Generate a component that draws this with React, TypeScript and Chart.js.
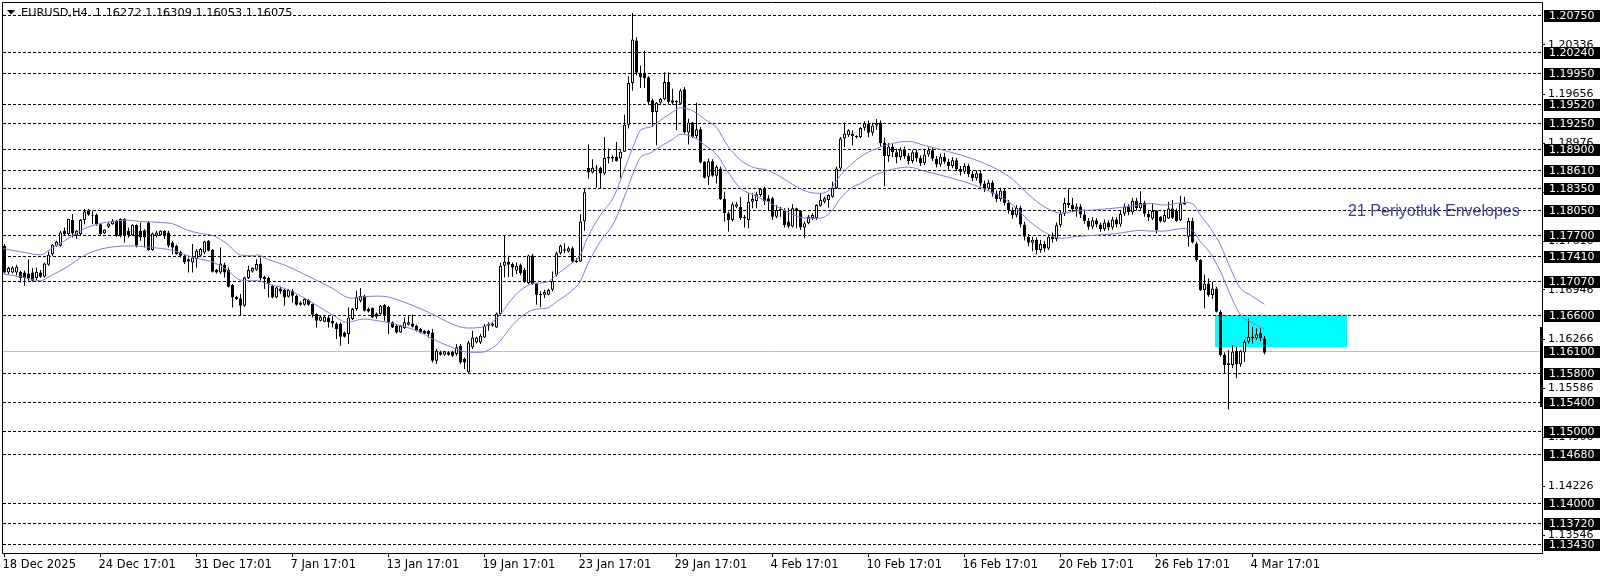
import React, { useEffect, useRef } from 'react';
import { Chart, registerables } from 'chart.js';

Chart.register(...registerables);

// ---------- DATA ----------
const symbolTitle = 'EURUSD,H4';

// H4 candles, bar index 0 = 18 Dec 2025
const openP = [
  1.17557, 1.17188, 1.17188, 1.17188, 1.17197, 1.17188, 1.17174, 1.17188, 1.1711, 1.17188,
  1.17128, 1.17294, 1.17441, 1.17557, 1.17557, 1.17764, 1.17718, 1.17912, 1.17695, 1.17718,
  1.17912, 1.1805, 1.17985, 1.17985, 1.17856, 1.17727, 1.1782, 1.17856, 1.17902, 1.17926,
  1.17926, 1.17764, 1.17704, 1.17843, 1.17764, 1.17773, 1.17879, 1.17497, 1.17695, 1.17704,
  1.17764, 1.17741, 1.17603, 1.17557, 1.17474, 1.17418, 1.17372, 1.17326, 1.17372, 1.17418,
  1.17465, 1.17626, 1.17497, 1.1722, 1.17188, 1.17294, 1.1722, 1.17013, 1.16851, 1.16828,
  1.16727, 1.1711, 1.17202, 1.17225, 1.17312, 1.17128, 1.1711, 1.17004, 1.16842, 1.16967,
  1.16944, 1.16851, 1.16934, 1.16865, 1.16773, 1.1674, 1.16805, 1.1675, 1.16612, 1.1652,
  1.16506, 1.16566, 1.1652, 1.16483, 1.16473, 1.16358, 1.16335, 1.16543, 1.16681, 1.16796,
  1.16865, 1.16681, 1.16695, 1.16621, 1.16612, 1.16736, 1.16713, 1.16497, 1.1645, 1.16358,
  1.16418, 1.16464, 1.16483, 1.1645, 1.16404, 1.16381, 1.16381, 1.16358, 1.15966, 1.16082,
  1.1605, 1.16082, 1.16091, 1.16059, 1.16174, 1.15989, 1.15805, 1.16151, 1.1622, 1.1622,
  1.16289, 1.16473, 1.1645, 1.16427, 1.16612, 1.1728, 1.17335, 1.17303, 1.17211, 1.17294,
  1.17225, 1.17041, 1.17423, 1.17027, 1.16871, 1.1688, 1.1688, 1.16949, 1.17156, 1.17455,
  1.1751, 1.17478, 1.17524, 1.1735, 1.1734, 1.17891, 1.18636, 1.18571, 1.18636, 1.18636,
  1.18558, 1.18765, 1.18788, 1.18788, 1.18765, 1.18857, 1.19233, 1.19808, 1.20396, 1.1995,
  1.1995, 1.1989, 1.19569, 1.19408, 1.19537, 1.19583, 1.19822, 1.19569, 1.19546, 1.19523,
  1.19721, 1.19123, 1.19261, 1.19077, 1.19169, 1.18719, 1.18512, 1.18728, 1.18526, 1.18627,
  1.18204, 1.18006, 1.17914, 1.18098, 1.18098, 1.1796, 1.17914, 1.18167, 1.18176, 1.18259,
  1.18351, 1.18213, 1.18213, 1.1796, 1.18052, 1.18052, 1.17891, 1.17822, 1.18075, 1.18038,
  1.17809, 1.17868, 1.17937, 1.17937, 1.18112, 1.18167, 1.1819, 1.18236, 1.18351, 1.18627,
  1.1904, 1.19086, 1.19109, 1.19077, 1.19063, 1.1919, 1.1925, 1.1912, 1.1922, 1.1926,
  1.1898, 1.188, 1.1893, 1.1885, 1.1878, 1.1889, 1.188, 1.1873, 1.1885, 1.1877,
  1.187, 1.1882, 1.1888, 1.1876, 1.1868, 1.1879, 1.1872, 1.1866, 1.1874, 1.1862,
  1.1858, 1.1866, 1.1855, 1.1849, 1.1856, 1.1842, 1.1835, 1.1843, 1.1828, 1.182,
  1.1832, 1.1815, 1.1805, 1.1798, 1.1808, 1.1785, 1.1768, 1.176, 1.1764, 1.175,
  1.1758, 1.1752, 1.1768, 1.1765, 1.1784, 1.18, 1.1815, 1.1812, 1.1806, 1.181,
  1.1799, 1.179, 1.1782, 1.1791, 1.1785, 1.1779, 1.1788, 1.1781, 1.1792, 1.1785,
  1.18, 1.181, 1.1802, 1.1818, 1.1808, 1.1815, 1.18, 1.17935, 1.18037, 1.17958,
  1.17889, 1.17935, 1.18073, 1.18037, 1.17912, 1.18129, 1.17682, 1.17898, 1.17589, 1.17359,
  1.16944, 1.17036, 1.16875, 1.16967, 1.16644, 1.16045, 1.1593, 1.15907, 1.161, 1.15916,
  1.16081, 1.1623, 1.16299, 1.16276, 1.16345, 1.16272,
];
const highP = [
  1.1758, 1.17266, 1.17275, 1.17294, 1.17211, 1.17211, 1.17372, 1.17248, 1.17257, 1.1722,
  1.17326, 1.17478, 1.1758, 1.17626, 1.17764, 1.1781, 1.1793, 1.17995, 1.17773, 1.17926,
  1.18064, 1.18064, 1.18041, 1.18004, 1.17866, 1.17787, 1.17879, 1.17926, 1.17912, 1.17939,
  1.17939, 1.1781, 1.17856, 1.17856, 1.17879, 1.17787, 1.17893, 1.17741, 1.17764, 1.17773,
  1.17773, 1.17764, 1.17626, 1.17571, 1.17488, 1.17441, 1.17395, 1.1758, 1.17511, 1.17525,
  1.17626, 1.17635, 1.17511, 1.17234, 1.17534, 1.17326, 1.17257, 1.17027, 1.16865, 1.16888,
  1.17128, 1.1728, 1.17257, 1.17372, 1.17395, 1.17142, 1.17128, 1.17018, 1.1699, 1.1699,
  1.16957, 1.16957, 1.16957, 1.16879, 1.16787, 1.16832, 1.16819, 1.16759, 1.16621, 1.16589,
  1.16589, 1.16589, 1.16589, 1.16497, 1.16497, 1.16372, 1.16704, 1.16695, 1.16934, 1.16971,
  1.16879, 1.16704, 1.16704, 1.16635, 1.16736, 1.1675, 1.16727, 1.1651, 1.16473, 1.16464,
  1.16566, 1.16589, 1.16602, 1.16464, 1.16418, 1.16391, 1.16391, 1.16404, 1.16128, 1.16105,
  1.16105, 1.16096, 1.16105, 1.16197, 1.16197, 1.16012, 1.16243, 1.16381, 1.16298, 1.16335,
  1.16473, 1.16497, 1.16492, 1.16635, 1.17326, 1.17704, 1.17418, 1.17326, 1.17326, 1.17312,
  1.1725, 1.17432, 1.17445, 1.17041, 1.16926, 1.16949, 1.16963, 1.17202, 1.17478, 1.1757,
  1.17593, 1.17547, 1.17547, 1.17386, 1.17992, 1.18342, 1.18958, 1.18755, 1.18673, 1.1865,
  1.19063, 1.18902, 1.18811, 1.18994, 1.18879, 1.19371, 1.19904, 1.20778, 1.20442, 1.20051,
  1.20258, 1.19904, 1.19592, 1.19546, 1.19601, 1.19959, 1.19959, 1.1973, 1.19569, 1.1973,
  1.19753, 1.19316, 1.1927, 1.19537, 1.19201, 1.18728, 1.18765, 1.18755, 1.18673, 1.1865,
  1.18305, 1.18029, 1.18158, 1.18167, 1.18236, 1.17983, 1.18282, 1.18282, 1.18305, 1.1836,
  1.18374, 1.18259, 1.18236, 1.18121, 1.18098, 1.18075, 1.18084, 1.1813, 1.18084, 1.18052,
  1.17891, 1.17983, 1.18006, 1.1813, 1.18282, 1.18236, 1.18268, 1.18443, 1.1865, 1.19063,
  1.19261, 1.19169, 1.19155, 1.19086, 1.19201, 1.1928, 1.1929, 1.1926, 1.1931, 1.1929,
  1.1905, 1.1898, 1.1897, 1.189, 1.1892, 1.1893, 1.1884, 1.1888, 1.1889, 1.1881,
  1.189, 1.1892, 1.1891, 1.188, 1.1883, 1.1884, 1.1876, 1.1878, 1.1877, 1.1866,
  1.187, 1.1869, 1.1859, 1.186, 1.1859, 1.1846, 1.1847, 1.1846, 1.1832, 1.1836,
  1.1835, 1.1819, 1.1809, 1.1812, 1.1811, 1.1789, 1.1772, 1.1768, 1.1767, 1.1764,
  1.1762, 1.1772, 1.1774, 1.1788, 1.1804, 1.1822, 1.1834, 1.1822, 1.1814, 1.1813,
  1.1806, 1.1794, 1.1795, 1.1794, 1.1788, 1.1792, 1.1791, 1.1796, 1.1795, 1.1804,
  1.1814, 1.1813, 1.1822, 1.1822, 1.1831, 1.1818, 1.1804, 1.18143, 1.1805, 1.1797,
  1.1805, 1.18166, 1.18189, 1.18073, 1.18249, 1.18235, 1.17944, 1.17944, 1.17612, 1.17373,
  1.17161, 1.17105, 1.17059, 1.1699, 1.16667, 1.1608, 1.16114, 1.16183, 1.1616, 1.16114,
  1.16252, 1.16552, 1.16437, 1.16414, 1.16414, 1.16309,
];
const lowP = [
  1.17174, 1.17165, 1.17174, 1.17142, 1.1705, 1.17004, 1.17073, 1.17063, 1.17082, 1.1711,
  1.17119, 1.1728, 1.17418, 1.17543, 1.17543, 1.17695, 1.17695, 1.17672, 1.17649, 1.17704,
  1.17856, 1.17972, 1.17856, 1.17833, 1.17704, 1.17718, 1.17801, 1.17847, 1.17681, 1.17672,
  1.17603, 1.17672, 1.17695, 1.17534, 1.17626, 1.17534, 1.17488, 1.17488, 1.17672, 1.17695,
  1.17649, 1.17534, 1.17441, 1.17432, 1.17395, 1.17303, 1.17188, 1.17188, 1.17257, 1.17405,
  1.17441, 1.17478, 1.17188, 1.17174, 1.17165, 1.17119, 1.16981, 1.16704, 1.16805, 1.16589,
  1.16713, 1.17096, 1.17188, 1.17211, 1.17073, 1.16957, 1.16842, 1.16832, 1.16832, 1.16888,
  1.16727, 1.16842, 1.16773, 1.16727, 1.16727, 1.16727, 1.16727, 1.16566, 1.16427, 1.16511,
  1.16497, 1.16427, 1.16427, 1.16266, 1.16174, 1.16289, 1.16197, 1.16529, 1.16658, 1.16773,
  1.16649, 1.16635, 1.16556, 1.16543, 1.16602, 1.1652, 1.16335, 1.16418, 1.16344, 1.16349,
  1.16404, 1.16455, 1.16427, 1.16372, 1.16344, 1.16335, 1.16289, 1.15943, 1.1592, 1.16035,
  1.16035, 1.16035, 1.16022, 1.16035, 1.1592, 1.15851, 1.15782, 1.16128, 1.16206, 1.16197,
  1.1628, 1.16381, 1.16437, 1.16418, 1.16602, 1.17119, 1.17128, 1.17128, 1.17165, 1.1715,
  1.17041, 1.17027, 1.17018, 1.16742, 1.16706, 1.16834, 1.16871, 1.16926, 1.17133, 1.17432,
  1.17455, 1.17465, 1.17317, 1.17317, 1.17331, 1.17763, 1.18489, 1.18558, 1.1836, 1.18351,
  1.18535, 1.18696, 1.18719, 1.18719, 1.18498, 1.18857, 1.19178, 1.19707, 1.19914, 1.19739,
  1.19739, 1.19523, 1.19201, 1.18948, 1.19523, 1.19569, 1.19523, 1.19509, 1.19155, 1.19509,
  1.19109, 1.18958, 1.19049, 1.1904, 1.18696, 1.18489, 1.18397, 1.18512, 1.1842, 1.1819,
  1.17891, 1.17753, 1.17891, 1.18075, 1.17914, 1.17809, 1.17799, 1.18075, 1.18075, 1.18236,
  1.18121, 1.18052, 1.17914, 1.17937, 1.1796, 1.17809, 1.17799, 1.17809, 1.17799, 1.17776,
  1.17661, 1.17855, 1.17914, 1.17914, 1.18098, 1.18144, 1.18084, 1.18222, 1.18342, 1.18604,
  1.18925, 1.19063, 1.18948, 1.1904, 1.19049, 1.1915, 1.1906, 1.1908, 1.1916, 1.1893,
  1.1838, 1.1872, 1.1878, 1.187, 1.1874, 1.1876, 1.1868, 1.187, 1.1872, 1.1866,
  1.1867, 1.1879, 1.1873, 1.1864, 1.1865, 1.1869, 1.1861, 1.1863, 1.1859, 1.1853,
  1.1855, 1.1851, 1.1845, 1.1846, 1.1838, 1.183, 1.1832, 1.1824, 1.1816, 1.1817,
  1.1811, 1.18, 1.1793, 1.1795, 1.1781, 1.1763, 1.1755, 1.1748, 1.1744, 1.1746,
  1.1747, 1.175, 1.176, 1.1762, 1.1781, 1.1797, 1.1808, 1.1802, 1.1796, 1.1794,
  1.1786, 1.1778, 1.1779, 1.1781, 1.1775, 1.1776, 1.1777, 1.1778, 1.1781, 1.1782,
  1.1797, 1.1798, 1.1799, 1.1804, 1.1805, 1.1796, 1.179, 1.17912, 1.17728, 1.1788,
  1.1788, 1.17926, 1.17926, 1.17889, 1.17898, 1.1812, 1.17543, 1.17589, 1.17336, 1.1693,
  1.1669, 1.16852, 1.1682, 1.16635, 1.16022, 1.15782, 1.1529, 1.15861, 1.15722, 1.15884,
  1.15953, 1.16206, 1.16206, 1.16252, 1.16239, 1.16053,
];
const closeP = [
  1.17188, 1.17248, 1.17257, 1.17266, 1.1711, 1.1711, 1.1711, 1.17073, 1.17197, 1.17128,
  1.17312, 1.17432, 1.17571, 1.17612, 1.17741, 1.17718, 1.17926, 1.17727, 1.17764, 1.17912,
  1.18032, 1.17985, 1.17972, 1.17856, 1.17718, 1.17778, 1.17866, 1.17902, 1.17695, 1.17695,
  1.17704, 1.17704, 1.17843, 1.17557, 1.17672, 1.17672, 1.17497, 1.17727, 1.17741, 1.17764,
  1.17695, 1.17557, 1.17534, 1.17441, 1.17418, 1.17326, 1.1734, 1.17395, 1.17488, 1.17511,
  1.17617, 1.17488, 1.17197, 1.17188, 1.17312, 1.17188, 1.1699, 1.16842, 1.16819, 1.16727,
  1.17119, 1.1722, 1.17248, 1.17303, 1.1711, 1.17096, 1.17036, 1.16842, 1.16981, 1.16925,
  1.16842, 1.16944, 1.16865, 1.1674, 1.1674, 1.16819, 1.1674, 1.16602, 1.1652, 1.16575,
  1.16575, 1.16497, 1.16483, 1.16404, 1.16298, 1.16298, 1.16566, 1.16681, 1.16851, 1.16865,
  1.16658, 1.16649, 1.16566, 1.16575, 1.16727, 1.16589, 1.16497, 1.16427, 1.16358, 1.1645,
  1.16497, 1.16497, 1.16437, 1.16381, 1.16358, 1.16344, 1.16335, 1.15966, 1.16105, 1.1605,
  1.16096, 1.1605, 1.16035, 1.16151, 1.15943, 1.15943, 1.1622, 1.16289, 1.16289, 1.16312,
  1.1645, 1.1645, 1.16483, 1.16621, 1.1728, 1.17335, 1.17294, 1.17257, 1.1728, 1.17179,
  1.17064, 1.17423, 1.17027, 1.1688, 1.1689, 1.16917, 1.16949, 1.17073, 1.17455, 1.17556,
  1.17487, 1.17524, 1.1734, 1.17331, 1.17891, 1.18296, 1.18571, 1.18636, 1.18627, 1.18558,
  1.18774, 1.18788, 1.18765, 1.18728, 1.18857, 1.19233, 1.19808, 1.2041, 1.1995, 1.1989,
  1.19877, 1.19546, 1.19408, 1.19537, 1.19592, 1.19822, 1.19546, 1.19537, 1.19555, 1.19707,
  1.19123, 1.19261, 1.19063, 1.19169, 1.1871, 1.18498, 1.18728, 1.18526, 1.1865, 1.18204,
  1.18006, 1.17914, 1.1813, 1.1813, 1.17937, 1.17937, 1.18167, 1.18204, 1.18268, 1.18342,
  1.18176, 1.18167, 1.1796, 1.18052, 1.18066, 1.17845, 1.17822, 1.18075, 1.18038, 1.17809,
  1.17868, 1.1796, 1.17983, 1.18121, 1.1819, 1.18213, 1.18259, 1.1836, 1.18627, 1.1904,
  1.19109, 1.19155, 1.19077, 1.19063, 1.19187, 1.1925, 1.1912, 1.1922, 1.1926, 1.1898,
  1.188, 1.1893, 1.1885, 1.1878, 1.1889, 1.188, 1.1873, 1.1885, 1.1877, 1.187,
  1.1882, 1.1888, 1.1876, 1.1868, 1.1879, 1.1872, 1.1866, 1.1874, 1.1862, 1.1858,
  1.1866, 1.1855, 1.1849, 1.1856, 1.1842, 1.1835, 1.1843, 1.1828, 1.182, 1.1832,
  1.1815, 1.1805, 1.1798, 1.1808, 1.1785, 1.1768, 1.176, 1.1764, 1.175, 1.1758,
  1.1752, 1.1768, 1.1765, 1.1784, 1.18, 1.1815, 1.1812, 1.1806, 1.181, 1.1799,
  1.179, 1.1782, 1.1791, 1.1785, 1.1779, 1.1788, 1.1781, 1.1792, 1.1785, 1.18,
  1.181, 1.1802, 1.1818, 1.1808, 1.1815, 1.18, 1.1795, 1.18037, 1.17774, 1.17898,
  1.17981, 1.18073, 1.17944, 1.17898, 1.18143, 1.18156, 1.17898, 1.17603, 1.17359, 1.16944,
  1.17036, 1.16875, 1.16967, 1.16644, 1.16045, 1.15907, 1.15907, 1.16091, 1.15916, 1.161,
  1.1623, 1.16299, 1.16276, 1.16331, 1.16272, 1.16075,
];

// 21-period Envelopes, [bar, price]
const envUpper = [
  [-1, 1.17524], [4, 1.17474], [9, 1.17432], [11.5, 1.17511], [15.7, 1.17649], [19.8, 1.17787],
  [23.2, 1.17856], [28.2, 1.17902], [30.7, 1.17912], [34, 1.17893], [39, 1.17879], [42.3, 1.17856],
  [45.7, 1.17773], [49, 1.17727], [52.3, 1.17695], [55.7, 1.1758], [59, 1.17428], [62.3, 1.17418],
  [63.2, 1.17432], [65.7, 1.17372], [69.8, 1.17294], [74, 1.17188], [78.2, 1.17073], [82.3, 1.16957],
  [85.7, 1.16842], [87.3, 1.16832], [89.8, 1.16851], [93.2, 1.1686], [95.7, 1.16851], [99, 1.16796],
  [103.2, 1.16704], [107.3, 1.16602], [111.5, 1.16483], [115.7, 1.16418], [119, 1.16427], [121.5, 1.16483],
  [124, 1.16612], [126.5, 1.16796], [129, 1.1694], [132.3, 1.17036], [135.7, 1.17055], [138.2, 1.17165],
  [141.5, 1.17303], [144, 1.17432], [145.7, 1.17662], [149, 1.17983], [152.3, 1.18236], [155.7, 1.18719],
  [157.3, 1.18948], [159, 1.19155], [161.5, 1.19201], [164, 1.19293], [167.3, 1.19417], [169, 1.19468],
  [172.3, 1.19417], [174.8, 1.19316], [178.2, 1.19178], [180.7, 1.18948], [184, 1.18742], [187.3, 1.1864],
  [190.7, 1.18604], [194, 1.18512], [197.3, 1.18397], [200.7, 1.18305], [204, 1.18282], [206.5, 1.18342],
  [209, 1.18535], [211.5, 1.18673], [214, 1.18788], [218, 1.18903], [222, 1.18973], [226, 1.19001],
  [230, 1.18945], [236, 1.1886], [242, 1.1876], [248, 1.18619], [252, 1.18478], [256, 1.18265],
  [260, 1.18095], [264, 1.1801], [268, 1.18038], [272, 1.18052], [278, 1.1808], [284, 1.18124],
  [286.5, 1.18143], [289.8, 1.1812], [293.2, 1.18143], [294.8, 1.18156], [296.9, 1.18143], [299, 1.17981],
  [301.5, 1.17797], [304, 1.17566], [306.5, 1.17244], [309, 1.16967], [311.5, 1.16875], [315, 1.16746],
];
const envLower = [
  [-1, 1.17174], [4, 1.17128], [9, 1.17073], [11.5, 1.1714], [15.7, 1.17266], [19.8, 1.17418],
  [23.2, 1.17497], [28.2, 1.17548], [30.7, 1.17555], [34, 1.1755], [39, 1.1752], [42.3, 1.1749],
  [45.7, 1.1742], [49, 1.17372], [52.3, 1.17326], [55.7, 1.1722], [59, 1.17082], [62.3, 1.17073],
  [63.2, 1.17075], [65.7, 1.1703], [69.8, 1.16971], [74, 1.16865], [78.2, 1.16727], [82.3, 1.16589],
  [85.7, 1.16495], [87.3, 1.16515], [89.8, 1.16543], [93.2, 1.1652], [95.7, 1.16497], [99, 1.1645],
  [103.2, 1.1638], [107.3, 1.1626], [111.5, 1.1616], [115.7, 1.16085], [119, 1.16082], [121.5, 1.16128],
  [124, 1.16243], [126.5, 1.16427], [129, 1.16566], [132.3, 1.16673], [135.7, 1.16696], [138.2, 1.1679],
  [141.5, 1.1692], [144, 1.1707], [145.7, 1.1729], [149, 1.1762], [152.3, 1.1787], [155.7, 1.1834],
  [157.3, 1.1858], [159, 1.1878], [161.5, 1.1884], [164, 1.1893], [167.3, 1.1904], [169, 1.191],
  [172.3, 1.1906], [174.8, 1.1896], [178.2, 1.1881], [180.7, 1.1859], [184, 1.18351], [187.3, 1.18259],
  [190.7, 1.18167], [194, 1.18075], [197.3, 1.17983], [200.7, 1.17937], [204, 1.1794], [206.5, 1.1802],
  [209, 1.18213], [211.5, 1.18351], [214, 1.1842], [218, 1.18545], [222, 1.18615], [226, 1.18645],
  [230, 1.1859], [236, 1.18505], [242, 1.18405], [248, 1.18265], [252, 1.18125], [256, 1.1791],
  [260, 1.17745], [264, 1.1766], [268, 1.17685], [272, 1.177], [278, 1.17725], [284, 1.1777],
  [286.5, 1.1776], [289.8, 1.1776], [293.2, 1.17788], [294.8, 1.17797], [296.9, 1.17774], [299, 1.17612],
  [301.5, 1.17451], [304, 1.17198], [306.5, 1.16875], [309, 1.16598], [311.5, 1.16506], [315, 1.16405],
];

// horizontal levels (lines, black labels on the price axis)
const levelPrices = [
  1.2075, 1.2024, 1.1995, 1.1952, 1.1925, 1.189, 1.1861, 1.1835, 1.1805, 1.177, 1.1741,
  1.1707, 1.166, 1.161, 1.158, 1.154, 1.15, 1.1468, 1.14, 1.1372, 1.1343,
];
const grayLevels = [1.161];
// price axis ticks
const axisTicks = [1.20336, 1.19656, 1.18976, 1.18296, 1.17616, 1.16946, 1.16266, 1.15586, 1.14906, 1.14226, 1.13546];
// time axis
const dateTickBars = [0, 24, 48, 72, 96, 120, 144, 168, 192, 216, 240, 264, 288, 312];
const dateTickLabels = [
  '18 Dec 2025', '24 Dec 17:01', '31 Dec 17:01', '7 Jan 17:01', '13 Jan 17:01', '19 Jan 17:01',
  '23 Jan 17:01', '29 Jan 17:01', '4 Feb 17:01', '10 Feb 17:01', '16 Feb 17:01', '20 Feb 17:01',
  '26 Feb 17:01', '4 Mar 17:01',
];
// cyan zone
const zoneBars = [302.625, 335.625];
const zonePrices = [1.166, 1.1615];
const envelopeText = '21 Periyotluk Envelopes';
const envelopeTextAnchor = [335.9, 1.1805];

// ---------- CHART ----------
const X_MIN = -0.375;
const X_MAX = 384.375;
const Y_MIN = 1.133057;
const Y_MAX = 1.20916;
const AXIS_FONT = { family: 'DejaVu Sans', size: 11 };
const DATE_FONT = { family: 'DejaVu Sans', size: 11.5 };

const zeroPad = (s: any) => {
  s.paddingTop = 0;
  s.paddingBottom = 0;
  s.paddingLeft = 0;
  s.paddingRight = 0;
};

const overlayPlugin = {
  id: 'mtOverlay',
  beforeDatasetsDraw(chart: any) {
    const { ctx, chartArea: a, scales } = chart;
    const x = scales.x;
    const y = scales.y;
    ctx.save();
    // zone
    const zx1 = Math.round(x.getPixelForValue(zoneBars[0]));
    const zx2 = Math.round(x.getPixelForValue(zoneBars[1]));
    const zy1 = Math.round(y.getPixelForValue(zonePrices[0]));
    const zy2 = Math.round(y.getPixelForValue(zonePrices[1]));
    ctx.fillStyle = '#00ffff';
    ctx.fillRect(zx1, zy1, zx2 - zx1, zy2 - zy1);
    // levels
    ctx.lineWidth = 1;
    levelPrices.forEach((v) => {
      const gray = grayLevels.includes(v);
      const py = Math.round(y.getPixelForValue(v)) + 0.5;
      ctx.strokeStyle = gray ? '#c0c0c0' : '#000';
      ctx.setLineDash(gray ? [] : [3, 2]);
      ctx.beginPath();
      ctx.moveTo(a.left, py);
      ctx.lineTo(a.right, py);
      ctx.stroke();
    });
    ctx.setLineDash([]);
    ctx.restore();
  },
  afterDraw(chart: any) {
    const { ctx, chartArea: a, scales } = chart;
    const x = scales.x;
    const y = scales.y;
    ctx.save();
    // frame
    ctx.strokeStyle = '#000';
    ctx.lineWidth = 1;
    ctx.beginPath();
    ctx.moveTo(a.left - 0.5, a.bottom + 0.5);
    ctx.lineTo(a.left - 0.5, a.top - 0.5);
    ctx.lineTo(a.right + 0.5, a.top - 0.5);
    ctx.lineTo(a.right + 0.5, a.bottom + 0.5);
    ctx.lineTo(a.left - 0.5, a.bottom + 0.5);
    ctx.stroke();
    ctx.fillStyle = '#000';
    ctx.fillRect(a.right - 2, 327, 3, 80);
    // level labels
    ctx.font = '11px "DejaVu Sans"';
    ctx.textBaseline = 'middle';
    ctx.textAlign = 'left';
    levelPrices.forEach((v) => {
      const py = Math.round(y.getPixelForValue(v));
      ctx.fillStyle = '#000';
      ctx.fillRect(a.right + 2, py - 5, 56, 12);
      ctx.fillStyle = '#fff';
      ctx.fillText(v.toFixed(5), a.right + 7, py + 1);
    });
    // title
    const last = closeP.length - 1;
    ctx.fillStyle = '#000';
    ctx.beginPath();
    ctx.moveTo(7, 10);
    ctx.lineTo(15, 10);
    ctx.lineTo(11, 14.5);
    ctx.closePath();
    ctx.fill();
    ctx.font = '11.3px "DejaVu Sans"';
    const title = `${symbolTitle}  ${openP[last].toFixed(5)} ${highP[last].toFixed(5)} ${lowP[last].toFixed(5)} ${closeP[last].toFixed(5)}`;
    ctx.fillText(title, 21, 13);
    // envelope text
    ctx.font = '16px "Liberation Sans"';
    ctx.fillStyle = '#3f3f94';
    ctx.fillText(envelopeText, x.getPixelForValue(envelopeTextAnchor[0]), y.getPixelForValue(envelopeTextAnchor[1]) + 1);
    ctx.restore();
  },
};

export default function App() {
  const ref = useRef<HTMLCanvasElement>(null);
  useEffect(() => {
    if (!ref.current) return;
    const wickData = highP.map((h, i) => ({ x: i, y: [lowP[i], h] }));
    const bodyData = openP.map((o, i) => ({ x: i, y: [o, closeP[i]] }));
    const bodyColors = openP.map((o, i) => (closeP[i] >= o ? '#ffffff' : '#000000'));
    const chart = new Chart(ref.current, {
      type: 'bar',
      data: {
        datasets: [
          {
            type: 'line',
            label: 'Envelopes upper',
            data: envUpper.map(([b, p]) => ({ x: b, y: p })),
            borderColor: '#9370db',
            borderWidth: 1,
            pointRadius: 0,
            cubicInterpolationMode: 'monotone',
            order: 0,
          } as any,
          {
            type: 'line',
            label: 'Envelopes lower',
            data: envLower.map(([b, p]) => ({ x: b, y: p })),
            borderColor: '#9370db',
            borderWidth: 1,
            pointRadius: 0,
            cubicInterpolationMode: 'monotone',
            order: 0,
          } as any,
          {
            type: 'bar',
            label: 'body',
            data: bodyData,
            barThickness: 3,
            backgroundColor: bodyColors,
            borderColor: '#000',
            borderWidth: 1,
            borderSkipped: false,
            grouped: false,
            minBarLength: 1,
            inflateAmount: 0,
            order: 1,
          } as any,
          {
            type: 'bar',
            label: 'wick',
            data: wickData,
            barThickness: 1,
            backgroundColor: '#000',
            borderWidth: 0,
            grouped: false,
            minBarLength: 1,
            inflateAmount: 0,
            order: 2,
          } as any,
        ],
      },
      options: {
        animation: false,
        responsive: false,
        maintainAspectRatio: false,
        devicePixelRatio: 1,
        events: [],
        layout: { padding: { left: 3, top: 3, right: 0, bottom: 0 } },
        plugins: { legend: { display: false }, tooltip: { enabled: false }, title: { display: false } },
        scales: {
          x: {
            type: 'linear',
            position: 'bottom',
            min: X_MIN,
            max: X_MAX,
            offset: false,
            afterFit: (s: any) => { s.height = 24; zeroPad(s); },
            afterBuildTicks: (s: any) => { s.ticks = dateTickBars.map((v) => ({ value: v })); },
            ticks: {
              autoSkip: false,
              maxRotation: 0,
              minRotation: 0,
              align: 'start',
              labelOffset: -2,
              padding: 1,
              color: '#000',
              font: DATE_FONT,
              callback: (v: any) => {
                const k = dateTickBars.indexOf(Number(v));
                return k >= 0 ? dateTickLabels[k] : '';
              },
            },
            grid: { display: true, offset: false, drawOnChartArea: false, drawTicks: true, tickLength: 4, color: '#000' },
            border: { display: false },
          },
          y: {
            type: 'linear',
            position: 'right',
            min: Y_MIN,
            max: Y_MAX,
            afterFit: (s: any) => { s.width = 64; zeroPad(s); },
            afterBuildTicks: (s: any) => { s.ticks = axisTicks.map((v) => ({ value: v })); },
            ticks: {
              autoSkip: false,
              padding: 3,
              color: '#000',
              font: AXIS_FONT,
              callback: (v: any) => Number(v).toFixed(5),
            },
            grid: { display: true, drawOnChartArea: false, drawTicks: true, tickLength: 3, color: '#000' },
            border: { display: false },
          },
        },
      } as any,
      plugins: [overlayPlugin],
    });
    return () => chart.destroy();
  }, []);
  return (
    <div style={{ position: 'fixed', left: 0, top: 0, width: 1606, height: 577, background: '#fff' }}>
      <canvas ref={ref} width={1606} height={577} style={{ display: 'block', width: 1606, height: 577 }} />
    </div>
  );
}
